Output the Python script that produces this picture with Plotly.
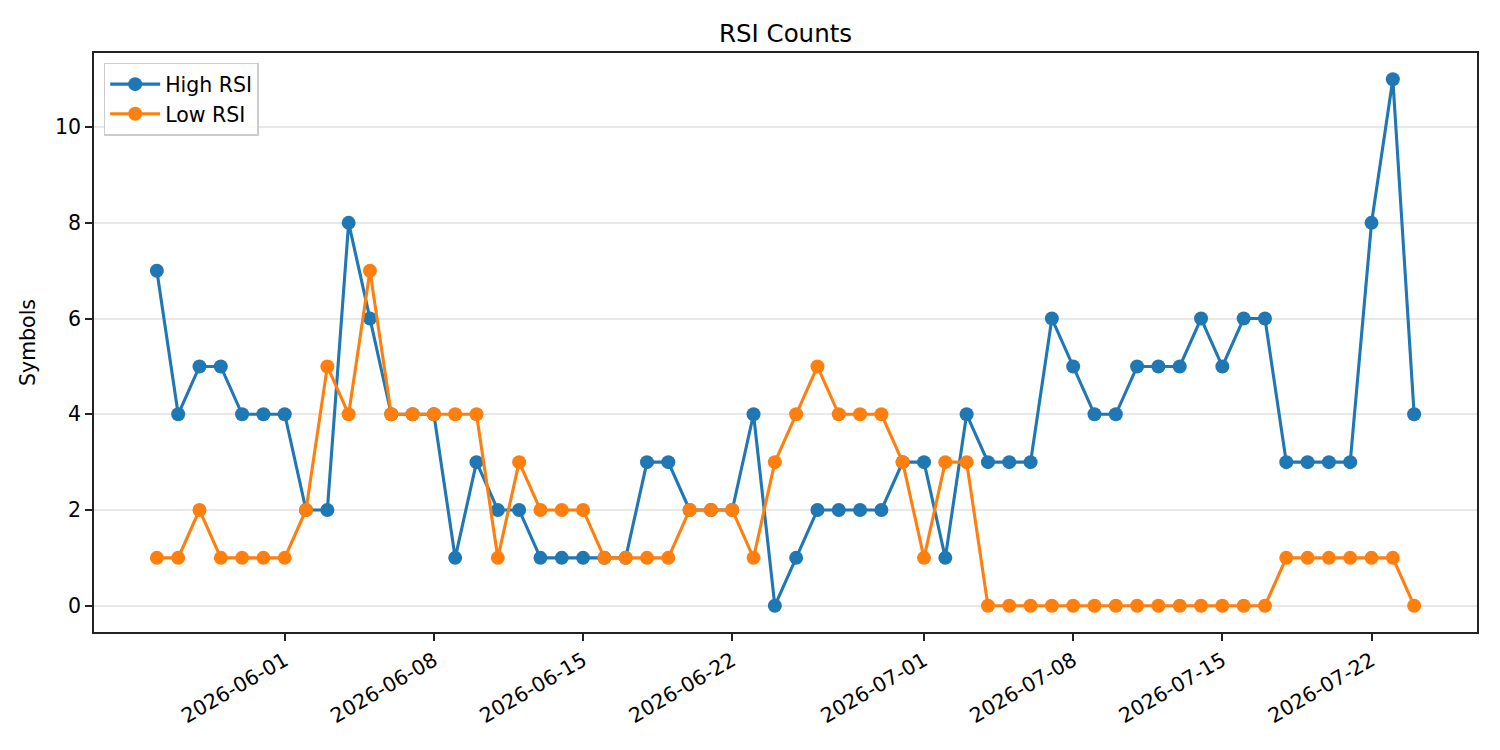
import pandas as pd
import plotly.graph_objects as go

dates = pd.date_range("2026-05-26", "2026-07-24", freq="D").strftime("%Y-%m-%d").tolist()

high_rsi = [7, 4, 5, 5, 4, 4, 4, 2, 2, 8, 6, 4, 4, 4, 1, 3, 2, 2, 1, 1,
            1, 1, 1, 3, 3, 2, 2, 2, 4, 0, 1, 2, 2, 2, 2, 3, 3, 1, 4, 3, 3, 3,
            6, 5, 4, 4, 5, 5, 5, 6, 5, 6, 6, 3, 3, 3, 3, 8, 11, 4]
low_rsi = [1, 1, 2, 1, 1, 1, 1, 2, 5, 4, 7, 4, 4, 4, 4, 4, 1, 3, 2, 2,
           2, 1, 1, 1, 1, 2, 2, 2, 1, 3, 4, 5, 4, 4, 4, 3, 1, 3, 3, 0, 0, 0,
           0, 0, 0, 0, 0, 0, 0, 0, 0, 0, 0, 1, 1, 1, 1, 1, 1, 0]

x_ticks = ["2026-06-01", "2026-06-08", "2026-06-15", "2026-06-22",
           "2026-07-01", "2026-07-08", "2026-07-15", "2026-07-22"]
y_ticks = [0, 2, 4, 6, 8, 10]

FONT = "DejaVu Sans, Arial, sans-serif"
FS = 20.5

fig = go.Figure()
fig.add_trace(go.Scatter(x=dates, y=high_rsi, mode="lines+markers", name="High RSI",
                         line=dict(color="#1f77b4", width=3.1),
                         marker=dict(color="#1f77b4", size=14)))
fig.add_trace(go.Scatter(x=dates, y=low_rsi, mode="lines+markers", name="Low RSI",
                         line=dict(color="#ff7f0e", width=3.1),
                         marker=dict(color="#ff7f0e", size=14)))

fig.update_layout(
    width=1500, height=750,
    margin=dict(l=94, r=23, t=53, b=118, autoexpand=False),
    paper_bgcolor="white", plot_bgcolor="white",
    font=dict(family=FONT, size=FS, color="black"),
    title=dict(text="RSI Counts", x=0.5, xanchor="center", y=0.956, yanchor="middle",
               xref="paper", font=dict(size=24.5, family=FONT, color="black")),
    showlegend=True,
    legend=dict(x=0.007, y=0.983, xanchor="left", yanchor="top",
                bgcolor="rgba(255,255,255,0.85)", bordercolor="#cccccc", borderwidth=1.5,
                font=dict(size=FS, family=FONT), tracegroupgap=0, itemwidth=50),
)

fig.update_xaxes(
    type="date",
    range=["2026-05-23 01:12", "2026-07-26 22:48"],
    tickvals=x_ticks, ticktext=x_ticks, tickangle=-30,
    showgrid=False, zeroline=False,
    showline=True, linecolor="#222222", linewidth=1.7, mirror=True,
    ticks="outside", ticklen=7, tickcolor="#222222", tickwidth=1.6,
    tickfont=dict(size=FS, family=FONT), automargin=False,
)
fig.update_yaxes(
    range=[-0.55, 11.55],
    tickvals=y_ticks, ticktext=[str(v) for v in y_ticks],
    showgrid=True, gridcolor="#e8e8e8", gridwidth=1.5,
    zeroline=False,
    showline=True, linecolor="#222222", linewidth=1.7, mirror=True,
    ticks="outside", ticklen=7, tickcolor="#222222", tickwidth=1.6,
    tickfont=dict(size=FS, family=FONT), automargin=False,
    title=dict(text="Symbols", font=dict(size=FS, family=FONT), standoff=14),
)

fig.write_html("out.html")
